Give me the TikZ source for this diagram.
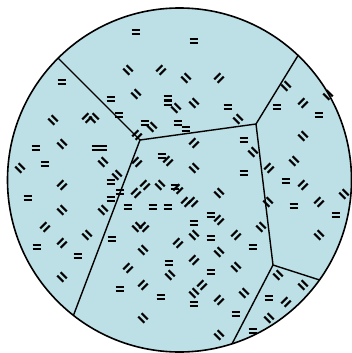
\documentclass[tikz,border=0pt]{standalone}
\definecolor{grain}{RGB}{188,224,229}
\tikzset{
  joint/.style={line width=1.4pt},
  trait/.style={line width=2pt},
  pics/paire/.style={code={\draw[trait] (-4.4,-2.4) -- (4.4,-2.4) (-4.4,2.4) -- (4.4,2.4);}}
}
\begin{document}
\begin{tikzpicture}[x=1pt, y=-1pt]
\useasboundingbox (0,0) rectangle (351,353);

% Paramètres
\def\cx{179.5}
\def\cy{180}
\def\r{172}
\coordinate (O) at (\cx,\cy);

% Sommets des joints
\coordinate (A) at (140,140);
\coordinate (B) at (256,124);
\coordinate (C) at (273,265);

% Disque
\fill[grain] (O) circle (\r);

% Joints de grains
\begin{scope}
\clip (O) circle (\r);
\draw[joint] (40,40) -- (A) -- (B) -- (310,36);
\draw[joint] (A) -- (66,335);
\draw[joint] (B) -- (C) -- (360,293);
\draw[joint] (C) -- (220,367);
\end{scope}

% Marques horizontales
\foreach \x/\y in {136/32, 194/41, 62/82, 111/99, 168/98, 168/103, 119/115, 145/123,
  178/123, 186/129, 228/107, 277/107, 319/115, 244/140, 36/148, 96/148, 103/148,
  45/164, 162/156, 244/173, 286/181, 111/182, 175/187, 120/192, 111/199, 28/198,
  128/207, 153/207, 168/207, 294/206, 211/215, 336/215, 194/223, 211/238, 112/239,
  37/247, 253/247, 78/256, 169/263, 211/272, 120/289, 161/297, 269/298, 194/304,
  236/314, 253/331}
  \pic at (\x,\y) {paire};

% Marques descendantes
\foreach \x/\y in {128/70, 186/78, 286/86, 328/95, 136/94, 194/103, 176/108, 238/119,
  94/118, 53/120, 152/127, 303/136, 62/144, 253/152, 294/161, 103/162, 20/168,
  194/168, 117/175, 160/185, 219/193, 344/194, 268/202, 62/210, 103/210, 137/227,
  261/227, 87/235, 194/235, 319/235, 143/250, 219/252, 236/267, 170/275, 278/275,
  62/277, 303/285, 194/293, 244/293, 143/318, 269/318, 219/335}
  \pic[rotate=-45] at (\x,\y) {paire};

% Marques montantes
\foreach \x/\y in {161/70, 219/78, 303/103, 87/118, 137/135, 194/143, 137/162, 168/161,
  269/168, 62/185, 145/185, 303/185, 178/189, 136/193, 186/202, 193/202, 319/202,
  219/220, 45/227, 144/227, 236/235, 178/243, 62/243, 194/260, 128/268, 143/285,
  202/285, 219/300, 286/302}
  \pic[rotate=45] at (\x,\y) {paire};

% Contour
\draw[line width=1.6pt] (O) circle (\r);
\end{tikzpicture}
\end{document}
